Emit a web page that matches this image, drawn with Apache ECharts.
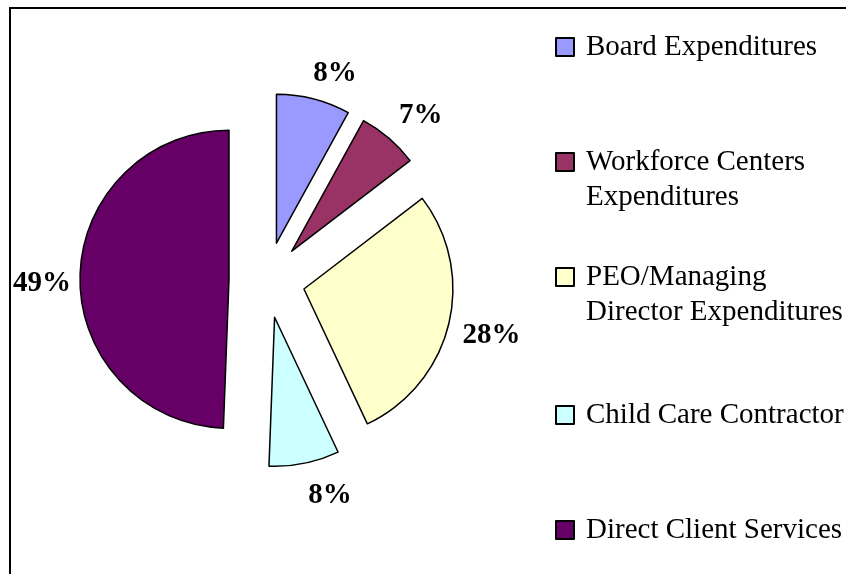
<!DOCTYPE html>
<html>
<head>
<meta charset="utf-8">
<script src="https://cdn.jsdelivr.net/npm/echarts@6/dist/echarts.min.js"></script>
<style>
  html, body { margin: 0; padding: 0; background: #fff; }
  #main { width: 846px; height: 574px; }
</style>
</head>
<body>
<div id="main"></div>
<script>
  // 数据
  var names = [
    'Board Expenditures',
    'Workforce Centers\nExpenditures',
    'PEO/Managing\nDirector Expenditures',
    'Child Care Contractor',
    'Direct Client Services'
  ];
  var percents = [8.0, 6.6, 28.4, 7.6, 49.4];
  var colors = ['#9999FF', '#993366', '#FFFFCC', '#CCFFFF', '#660066'];

  // layout bits
  var legendY = [47, 162, 277, 415, 530];
  var labelNudge = [[12, 11], [7, 6], [6, 2], [18, -5], [0, 8]];
  var lineH = 35;
  var serif = '"Liberation Serif", "Times New Roman", serif';

  var chart = echarts.init(document.getElementById('main'));

  var pieData = names.map(function (n, i) {
    return { name: n, value: percents[i], selected: true, itemStyle: { color: colors[i] } };
  });
  var labelData = names.map(function (n, i) {
    return { name: n, value: percents[i], selected: true };
  });

  var legends = names.map(function (n, i) {
    var twoLines = n.indexOf('\n') >= 0;
    return {
      orient: 'vertical',
      left: 555,
      top: legendY[i] - (twoLines ? lineH * 1.5 : lineH / 2),
      padding: 0,
      itemWidth: 18,
      itemHeight: 18,
      icon: 'rect',
      selectedMode: false,
      data: [n],
      formatter: function (name) {
        return name.split('\n').map(function (s) { return '{a|' + s + '}'; }).join('\n');
      },
      textStyle: {
        fontFamily: serif,
        fontSize: 29,
        color: '#000',
        lineHeight: lineH,
        padding: [twoLines ? lineH : 0, 0, 0, 7],
        rich: {
          a: { fontFamily: serif, fontSize: 29, color: '#000', lineHeight: lineH }
        }
      }
    };
  });

  chart.setOption({
    animation: false,
    graphic: [{
      type: 'rect',
      shape: { x: 10, y: 8, width: 860, height: 600 },
      style: { fill: 'none', stroke: '#000', lineWidth: 2 },
      silent: true
    }],
    legend: legends,
    series: [
      {
        type: 'pie',
        center: [267, 280],
        radius: 149,
        startAngle: 90,
        selectedMode: 'multiple',
        selectedOffset: 38,
        silent: true,
        itemStyle: { borderColor: '#000', borderWidth: 1.5 },
        select: { itemStyle: { borderColor: '#000', borderWidth: 1.5 } },
        label: { show: false },
        labelLine: { show: false },
        data: pieData
      },
      {
        // invisible ring just to carry the percent labels
        type: 'pie',
        center: [267, 280],
        radius: [168, 200],
        startAngle: 90,
        selectedMode: 'multiple',
        selectedOffset: 38,
        silent: true,
        itemStyle: { color: 'rgba(0,0,0,0)', borderWidth: 0 },
        select: { itemStyle: { color: 'rgba(0,0,0,0)', borderWidth: 0 } },
        label: {
          show: true,
          position: 'inside',
          formatter: function (p) { return Math.round(p.percent) + '%'; },
          fontFamily: serif,
          fontWeight: 'bold',
          fontSize: 29,
          color: '#000'
        },
        labelLayout: function (p) {
          var d = labelNudge[p.dataIndex];
          return { dx: d[0], dy: d[1] };
        },
        labelLine: { show: false },
        data: labelData
      }
    ]
  });
</script>
</body>
</html>
